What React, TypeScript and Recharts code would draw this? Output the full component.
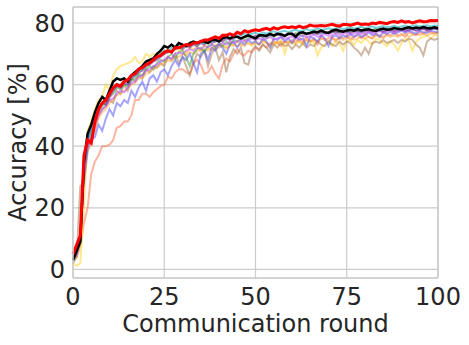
import { CartesianGrid, Label, Line, LineChart, ReferenceLine, XAxis, YAxis } from "recharts";

const rounds = Array.from({ length: 101 }, (_, i) => i);

const red = [
  5, 8, 11, 37, 42, 41, 48, 52, 54, 55, 57, 59, 60, 59.5, 61, 61.5, 63, 63.5, 65, 65.5,
  66.5, 67, 68, 69, 69.5, 70.5, 71, 70.5, 72, 72, 72.5, 73, 72.8, 73.5, 73.5, 74, 74.5, 74.5, 75, 75.5,
  75, 76, 76, 76.5, 76, 77, 76.5, 77.5, 77, 77.5, 77.8, 77.5, 78, 78.3, 77.8, 78.5, 78, 78.5, 78.8, 78.5,
  78.8, 78.5, 79, 78.5, 78.8, 79.3, 79, 79, 79.2, 79, 79.3, 79.6, 79.2, 79, 79.5, 79.5, 79.3, 79.6, 80, 79.5,
  79.7, 79.5, 80, 79.8, 80.2, 80, 79.8, 80.3, 80.5, 80.2, 80.7, 80.3, 80.5, 80, 80.4, 80.7, 80.4, 80.5, 80.8, 80.7,
  80.8,
];

const black = [
  3, 6, 9, 35, 44, 47, 51, 54, 56, 55, 58, 61, 62, 61.5, 62, 61, 63, 64, 65, 66,
  67.5, 68, 68.5, 70, 71, 72.5, 72, 73, 72, 73.5, 73, 72.5, 73.5, 74, 73.5, 74, 74, 73.5, 74.5, 74.5,
  74, 75, 75.5, 75, 75.5, 75.5, 75, 75.5, 76, 75.5, 75, 76, 76, 75.8, 76.5, 76, 76.5, 76.3, 75.8, 76.5,
  76.5, 75.5, 76.8, 77, 76.5, 76.8, 77.2, 77, 77.5, 77, 76.8, 77.5, 77.8, 77.5, 77.2, 77.6, 77.8, 77.5, 78, 77.6,
  77.8, 78, 77.6, 77.4, 77.9, 78.2, 77.8, 78, 78.4, 78.1, 78, 78.3, 78.6, 78.2, 78.5, 78.3, 78.7, 78.4, 78.2, 78.6,
  78.3,
];

const blue = [
  3, 5, 10, 30, 40, 42, 43, 47, 45, 49, 52, 50, 54, 53, 55, 54, 58, 56, 59, 61,
  58, 62, 63, 61, 64, 65, 63, 66, 68, 66, 69, 68, 70, 67, 64, 70, 71, 68, 72, 71,
  73, 72, 70, 73, 74, 72, 74, 73, 74.5, 73.5, 74, 73, 75, 74, 72, 75, 74.5, 75.5, 74, 75,
  73.5, 75.5, 74.5, 75, 72.5, 75.5, 75, 74, 76, 75, 72.5, 75.5, 76, 75, 76, 75.5, 76.5, 75.5, 76.5, 75.5,
  76, 77, 76, 76.5, 75.5, 77, 76.5, 77.2, 76.5, 77, 77.5, 76.8, 77.5, 77, 76.5, 77.5, 77, 76.8, 77.5, 77.2,
  77,
];

const salmon = [
  3, 4, 8, 15, 20, 31, 35, 37, 40, 40, 40.5, 42, 46, 46.5, 48, 48, 50, 55, 55, 57,
  57, 56, 57.5, 58.5, 59.5, 60, 62.5, 62, 64, 65, 65, 64, 63.5, 67, 68, 66.5, 63.5, 64, 66, 63.5,
  62, 66.5, 68.5, 67.5, 70, 71.5, 70, 69.5, 71, 70.5, 72, 71.5, 73, 72, 73.5, 73, 74, 72.5, 74, 73.5,
  74.5, 73.5, 75, 74, 75.5, 74, 75, 73, 75.5, 74.5, 75, 75.5, 74, 75.5, 75, 76, 74.5, 75.5, 76, 75,
  76.5, 75.5, 75, 76.5, 76, 75.5, 76.5, 76, 77, 76, 76.5, 75.5, 77, 76.5, 76, 77, 76.5, 77.5, 77, 76.5,
  77,
];

const yellow = [
  2, 1.2, 2, 20, 45, 48, 52, 55, 56, 60, 58, 63, 65, 66, 66.5, 67, 67.5, 69, 67, 67.5,
  70, 69, 70, 69.5, 70.5, 70, 71.5, 70.5, 72, 71, 71.5, 70, 72, 71.5, 72.5, 71, 73, 72, 71, 73,
  72.5, 73, 71.5, 73.5, 72.5, 74, 73, 74, 73.5, 72.5, 74, 73, 74.5, 73.5, 72, 74, 73, 74.5, 70, 74,
  73.5, 73, 74, 73, 74.5, 73.5, 74, 69.5, 72, 73, 74, 72.5, 74, 73.5, 71, 74, 74.5, 73, 74.5, 73.5,
  75, 74, 73, 75, 74.5, 73.5, 72.5, 74, 73, 71, 73.5, 75, 74.5, 71, 74, 75, 75.5, 76, 75, 76,
  76,
];

const brown = [
  2, 4, 27, 28, 38, 42, 45, 50, 52, 53, 55, 54, 58, 57, 60, 58, 62, 61, 63, 62,
  65, 64, 66, 65.5, 67, 66, 69, 68, 70, 67, 69, 66, 63, 67, 70, 69, 71, 66, 70, 72,
  68, 70.5, 64, 69, 71.5, 70, 72, 67, 66.5, 71, 72.5, 71, 73, 72, 70.5, 73, 72, 73.5, 72.5, 73,
  71.5, 73, 72, 73.5, 72, 73, 72.5, 74, 73, 72.5, 74, 73, 72.5, 74, 73, 74, 73.5, 72, 71, 69.5,
  72, 70, 73.5, 74, 73.5, 74.5, 73.5, 74, 74.5, 73.5, 74.5, 74, 75, 74.5, 73, 72, 69.5, 74, 75, 74.5,
  75,
];

const cyan = [
  3, 6, 10, 33, 42, 45, 49, 52, 54, 55, 57, 59, 60, 60, 61, 61, 62.5, 63, 64.5, 65,
  66.5, 67, 68, 68.5, 70, 71, 70.5, 72, 71.5, 72.5, 72, 73, 72.5, 73.5, 73, 74, 73.5, 74.5, 74, 75,
  74.5, 75, 75.5, 75, 76, 75.5, 76, 76.5, 76, 76.5, 76.8, 76.3, 77, 76.5, 77, 77.3, 76.8, 77.2, 77.5, 77,
  77.5, 77.8, 77.3, 77.6, 78, 77.5, 77.8, 78.2, 77.8, 78, 78.3, 77.9, 78.2, 78.5, 78, 78.3, 78.6, 78.2, 78.5, 78.8,
  78.3, 78.6, 78.9, 78.5, 78.7, 79, 78.6, 78.8, 79.1, 78.7, 78.9, 79.2, 78.8, 79, 79.3, 78.9, 79.1, 79.3, 78.9, 79.2,
  79,
];

const green = [
  3, 5, 9, 32, 41, 44, 48, 51, 53, 54, 56, 57, 59, 58.5, 60, 59.5, 61.5, 62, 63.5, 63,
  65, 66, 65, 67, 68, 67.5, 69, 70, 68.5, 70.5, 71, 69, 66, 70, 71.5, 72, 70.5, 72.5, 73, 72,
  73.5, 72.5, 74, 73, 74.5, 74, 75, 74.5, 75, 75.5, 74.5, 75.5, 76, 75, 76, 75.5, 76.5, 76, 75.5, 76.5,
  76, 76.8, 76.2, 75.8, 76.6, 77, 76.4, 76.8, 77.2, 76.6, 77, 77.4, 76.8, 77.2, 77.5, 77, 77.4, 77.8, 77.2, 77.6,
  78, 77.4, 77.8, 78.1, 77.5, 77.9, 78.2, 77.6, 78, 78.3, 77.8, 78.1, 78.4, 77.9, 78.2, 78.5, 78, 78.3, 78.6, 78.1,
  78.4,
];

const purple = [
  4, 7, 10, 34, 42, 46, 49, 52, 54, 53.5, 56, 58, 59.5, 59, 60.5, 60, 62, 63, 64, 64.5,
  66, 66.5, 67.5, 68, 69, 70, 70.5, 71, 71.5, 72, 71.5, 72.5, 72, 73, 72.5, 73.5, 73, 74, 73.5, 74,
  74.5, 74, 75, 74.5, 75, 75.5, 75, 75.5, 75.8, 75.3, 75.8, 76, 75.5, 76, 76.3, 75.8, 76.2, 76.5, 76, 76.3,
  76.6, 76.1, 76.5, 76.8, 76.3, 76.6, 76.9, 76.4, 76.8, 77.1, 76.6, 77, 77.3, 76.8, 77.1, 77.4, 76.9, 77.2, 77.5, 77,
  77.4, 77.7, 77.2, 77.5, 77.8, 77.3, 77.6, 77.9, 77.4, 77.7, 78, 77.5, 77.8, 78.1, 77.6, 77.9, 78.2, 77.7, 78, 78.3,
  77.8,
];

const violet = [
  3, 5, 9, 31, 40, 43, 47, 50, 52, 53, 55, 55.5, 57, 58, 57.5, 59, 60.5, 61, 62.5, 63,
  64.5, 65, 66, 66.5, 67.5, 68, 69, 68.5, 70, 70.5, 70, 71, 71.5, 71, 72, 71.5, 72.5, 72, 73, 72.5,
  73, 73.5, 73, 74, 73.5, 74, 74.5, 74, 74.5, 75, 74.5, 75, 74.5, 75, 75.5, 74.5, 75, 75.5, 74.8, 75.2,
  75.5, 75, 75.5, 76, 75.3, 75.8, 76.2, 75.5, 76, 76.4, 75.8, 76.2, 76.6, 76, 76.4, 76.8, 76.2, 76.6, 77, 76.4,
  76.8, 77.2, 76.6, 77, 77.4, 76.8, 77.2, 77.6, 77, 77.4, 77.8, 77.2, 77.6, 78, 77.4, 77.8, 78.2, 77.6, 78, 78.3,
  77.8,
];

const orange = [
  3, 4, 8, 30, 39, 42, 46, 49, 51, 52, 54, 55, 56.5, 57, 58, 58.5, 60, 60.5, 62, 62,
  63.5, 64, 65, 65.5, 66.5, 67, 68, 67.5, 69, 69, 70, 69.5, 70.5, 70, 71, 71, 71.5, 71, 72, 71.5,
  72, 72.5, 72, 72.5, 73, 72.5, 73, 72.5, 73.5, 73, 73.5, 73, 74, 73.5, 73, 74, 73.5, 74, 73.5, 74,
  73.5, 74.5, 74, 73.5, 74.5, 74, 74.5, 74, 75, 74.5, 74, 75, 74.5, 75, 74.5, 75, 75.5, 74.5, 75, 75.5,
  75, 75.5, 75, 76, 75.5, 75, 76, 75.5, 76, 75.5, 76, 76.5, 75.5, 76, 76.5, 76, 76.5, 76, 76.5, 77,
  76.5,
];

const xTicks = [0, 25, 50, 75, 100];
const yTicks = [0, 20, 40, 60, 80];

const data = rounds.map((r, i) => ({
  round: r,
  red: red[i],
  black: black[i],
  blue: blue[i],
  salmon: salmon[i],
  yellow: yellow[i],
  brown: brown[i],
  cyan: cyan[i],
  green: green[i],
  purple: purple[i],
  violet: violet[i],
  orange: orange[i],
}));

const FONT = "DejaVu Sans, sans-serif";
const TEXT = "#262626";
const GRID = "#cccccc";
const FS = 24;

// faint runs first, black and red on top
const faint = [
  { key: "salmon", color: "#ff6a40", opacity: 0.5 },
  { key: "yellow", color: "#ffd21f", opacity: 0.5 },
  { key: "brown", color: "#a0704a", opacity: 0.5 },
  { key: "orange", color: "#ff9a1f", opacity: 0.45 },
  { key: "blue", color: "#4a4aff", opacity: 0.5 },
  { key: "green", color: "#3a9a3a", opacity: 0.5 },
  { key: "violet", color: "#c040ff", opacity: 0.5 },
  { key: "purple", color: "#6a2a8a", opacity: 0.6 },
  { key: "cyan", color: "#1ab0c0", opacity: 0.6 },
];

function YTitle(props: any) {
  const vb = props.viewBox || { x: 0, y: 7, width: 73, height: 271 };
  const x = vb.x + 26;
  const y = vb.y + vb.height / 2;
  return (
    <text
      x={x}
      y={y}
      transform={`rotate(-90, ${x}, ${y})`}
      textAnchor="middle"
      fontSize={FS}
      fontFamily={FONT}
      fill={TEXT}
    >
      Accuracy [%]
    </text>
  );
}

export default function App() {
  return (
    <div style={{ position: "absolute", left: 0, top: 0, background: "#fff" }}>
      <LineChart
        width={469}
        height={345}
        data={data}
        margin={{ top: 7, right: 31, left: 0, bottom: 0 }}
      >
        <CartesianGrid stroke={GRID} strokeWidth={1.2} />
        <XAxis
          dataKey="round"
          type="number"
          domain={[0, 100]}
          ticks={xTicks}
          height={67}
          tickLine={false}
          tickMargin={4}
          axisLine={{ stroke: GRID, strokeWidth: 1.5 }}
          tick={{ fontSize: FS, fontFamily: FONT, fill: TEXT }}
        >
          <Label
            value="Communication round"
            position="insideBottom"
            offset={13}
            style={{ fontSize: FS, fontFamily: FONT, fill: TEXT }}
          />
        </XAxis>
        <YAxis
          type="number"
          domain={[-2.8, 85.2]}
          ticks={yTicks}
          width={73}
          tickLine={false}
          axisLine={{ stroke: GRID, strokeWidth: 1.5 }}
          tick={{ fontSize: FS, fontFamily: FONT, fill: TEXT }}
          allowDataOverflow
          label={<YTitle />}
        />
        <ReferenceLine y={85.2} stroke={GRID} strokeWidth={1.5} />
        <ReferenceLine x={100} stroke={GRID} strokeWidth={1.5} />
        {faint.map((s) => (
          <Line
            key={s.key}
            dataKey={s.key}
            stroke={s.color}
            strokeOpacity={s.opacity}
            strokeWidth={2}
            dot={false}
            activeDot={false}
            isAnimationActive={false}
          />
        ))}
        <Line
          dataKey="black"
          stroke="#000000"
          strokeWidth={2.5}
          dot={false}
          activeDot={false}
          isAnimationActive={false}
        />
        <Line
          dataKey="red"
          stroke="#ff0000"
          strokeWidth={3}
          dot={false}
          activeDot={false}
          isAnimationActive={false}
        />
      </LineChart>
    </div>
  );
}
